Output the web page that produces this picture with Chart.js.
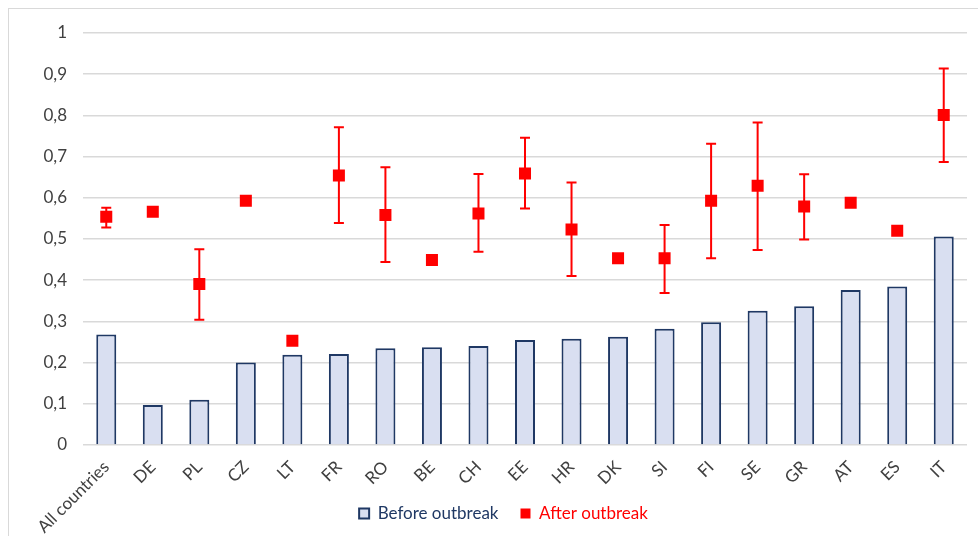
<!DOCTYPE html>
<html>
<head>
<meta charset="utf-8">
<script src="https://cdn.jsdelivr.net/npm/chart.js@4/dist/chart.umd.min.js"></script>
<style>
  html, body { margin: 0; padding: 0; background: #fff; }
  #frame {
    position: absolute; left: 8px; top: 8px; width: 1000px; height: 600px;
    border: 1px solid #d9d9d9; box-sizing: border-box;
  }
  #wrap { position: absolute; left: 0; top: 0; width: 978px; height: 536px; }
</style>
</head>
<body>
<div id="frame"></div>
<div id="wrap"><canvas id="chart"></canvas></div>
<script>
const countries = ['All countries', 'DE', 'PL', 'CZ', 'LT', 'FR', 'RO', 'BE', 'CH', 'EE',
    'HR', 'DK', 'SI', 'FI', 'SE', 'GR', 'AT', 'ES', 'IT'];

const beforeValues = [0.268, 0.097, 0.110, 0.200, 0.219, 0.221, 0.235, 0.237, 0.240, 0.255,
    0.258, 0.263, 0.282, 0.298, 0.326, 0.337, 0.376, 0.385, 0.506];

const afterValues = [0.554, 0.566, 0.391, 0.593, 0.253, 0.654, 0.558, 0.449, 0.562, 0.659,
    0.523, 0.453, 0.453, 0.593, 0.629, 0.579, 0.588, 0.520, 0.801];

// confidence interval ends, null where the source shows no error bar
const afterLow = [0.528, null, 0.304, null, null, 0.539, 0.444, null, 0.469, 0.574,
    0.410, null, 0.369, 0.453, 0.473, 0.499, null, null, 0.687];
const afterHigh = [0.576, null, 0.475, null, null, 0.771, 0.674, null, 0.658, 0.746,
    0.637, null, 0.534, 0.731, 0.783, 0.657, null, null, 0.914];

const seriesNames = ['Before outbreak', 'After outbreak'];

const NAVY = '#1f3864';
const BAR_FILL = '#d9dff1';
const RED = '#ff0000';
const FONT = 'Lato';

function formatComma(v) {
    const n = Math.round(Number(v) * 10) / 10;
    return String(n).replace('.', ',');
}

const errorBars = {
    id: 'errorBars',
    afterDatasetsDraw(chart) {
        const { ctx, scales } = chart;
        const meta = chart.getDatasetMeta(1);
        if (meta.hidden) {
            return;
        }
        ctx.save();
        ctx.strokeStyle = RED;
        ctx.lineWidth = 2;
        afterLow.forEach((lo, i) => {
            const hi = afterHigh[i];
            if (lo == null || hi == null) {
                return;
            }
            const x = scales.x.getPixelForValue(i);
            const yLo = scales.y.getPixelForValue(lo);
            const yHi = scales.y.getPixelForValue(hi);
            ctx.beginPath();
            ctx.moveTo(x, yLo);
            ctx.lineTo(x, yHi);
            ctx.moveTo(x - 5, yLo);
            ctx.lineTo(x + 5, yLo);
            ctx.moveTo(x - 5, yHi);
            ctx.lineTo(x + 5, yHi);
            ctx.stroke();
        });
        ctx.restore();
    },
};

// the rotated country names run down beside the legend, so the x axis label
// clip is opened to the bottom of the canvas and the legend is nudged right
const layoutTweaks = {
    id: 'layoutTweaks',
    afterLayout(chart) {
        chart.scales.x.bottom = chart.height;
        if (chart.legend) {
            chart.legend.left += 15;
            chart.legend.right += 15;
        }
    },
};

new Chart(document.getElementById('chart').getContext('2d'), {
    data: {
        labels: countries,
        datasets: [
            {
                type: 'bar',
                label: seriesNames[0],
                data: beforeValues,
                backgroundColor: BAR_FILL,
                borderColor: NAVY,
                borderWidth: 2,
                categoryPercentage: 1,
                barPercentage: 0.43,
                order: 2,
            },
            {
                type: 'line',
                label: seriesNames[1],
                data: afterValues,
                showLine: false,
                pointStyle: 'rect',
                pointRadius: 8.5,
                pointHoverRadius: 8.5,
                pointBackgroundColor: RED,
                pointBorderWidth: 0,
                borderColor: RED,
                order: 1,
            },
        ],
    },
    options: {
        responsive: true,
        maintainAspectRatio: false,
        animation: false,
        layout: { padding: { left: 10, right: 11, top: 33, bottom: 4 } },
        plugins: {
            tooltip: { enabled: false },
            legend: {
                position: 'bottom',
                labels: {
                    font: { family: FONT, size: 17 },
                    boxWidth: 10,
                    boxHeight: 10,
                    padding: 22,
                    generateLabels: () => [
                        {
                            text: seriesNames[0],
                            fillStyle: BAR_FILL,
                            strokeStyle: NAVY,
                            lineWidth: 2,
                            fontColor: NAVY,
                            datasetIndex: 0,
                        },
                        {
                            text: seriesNames[1],
                            fillStyle: RED,
                            strokeStyle: RED,
                            lineWidth: 0,
                            fontColor: RED,
                            datasetIndex: 1,
                        },
                    ],
                },
            },
        },
        scales: {
            x: {
                afterFit: (scale) => { scale.height = 38; },
                grid: { display: false },
                border: { display: false },
                ticks: {
                    color: '#404040',
                    font: { family: FONT, size: 17 },
                    minRotation: 45,
                    maxRotation: 45,
                    padding: 4,
                    autoSkip: false,
                },
            },
            y: {
                min: 0,
                max: 1,
                afterFit: (scale) => { scale.width = 73; },
                grid: { color: '#d9d9d9', lineWidth: 1.5, drawTicks: false },
                border: { display: false },
                ticks: {
                    stepSize: 0.1,
                    padding: 16,
                    color: '#404040',
                    font: { family: FONT, size: 17 },
                    callback: (v) => formatComma(v),
                },
            },
        },
    },
    plugins: [errorBars, layoutTweaks],
});
</script>
</body>
</html>
